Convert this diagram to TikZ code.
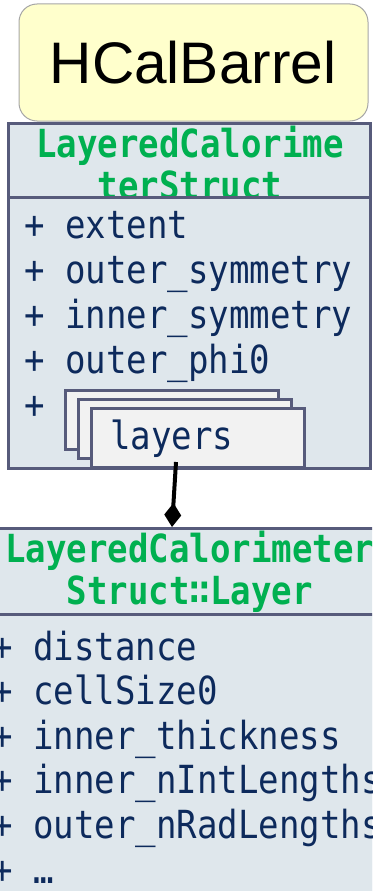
\documentclass[tikz,border=0pt]{standalone}
\usepackage{fontspec}
\setmainfont{Liberation Sans}
\newfontfamily\umlfont[FakeStretch=0.88]{DejaVu Sans Mono}
\usetikzlibrary{positioning, arrows.meta}
\definecolor{slate}{HTML}{575B7B}
\definecolor{boxfill}{HTML}{DFE7EC}
\definecolor{hdrgreen}{HTML}{00B050}
\definecolor{navy}{HTML}{0D2A5C}
\definecolor{notefill}{HTML}{FFFFCC}
\definecolor{stackfill}{HTML}{F2F2F2}

\begin{document}
\begin{tikzpicture}[x=1pt, y=-1pt,
  member/.style={anchor=base west, text=navy, inner sep=0pt,
    font=\umlfont\fontsize{38.7}{40}\selectfont},
  header/.style={anchor=base, text=hdrgreen, inner sep=0pt,
    font=\umlfont\bfseries\fontsize{38.7}{40}\selectfont},
  classbox/.style={draw=slate, fill=boxfill, line width=3pt},
  stackbox/.style={draw=slate, fill=stackfill, line width=3pt,
    minimum width=213pt, minimum height=59pt, inner sep=0pt}]
\useasboundingbox (0,0) rectangle (372,891);
\clip (0,0) rectangle (372,891);

% Titel
\draw[rounded corners=18pt, fill=notefill, draw=gray!70, line width=1pt] (19,4) rectangle (368,121);
\node (title) at (193,63) {\fontsize{58.6}{60}\selectfont HCalBarrel};

% LayeredCalorimeterStruct
\draw[classbox] (8,123) rectangle (370,468);
\node[header] (uhead1) at (190,157) {LayeredCalorime};
\node[header] (uhead2) at (190,199) {terStruct};
\draw[classbox] (8,197) rectangle (370,468);
\foreach \name [count=\i] in {extent, outer\_symmetry, inner\_symmetry, outer\_phi0}
  \node[member] (um\i) at (24,{238+45*(\i-1)}) {+ \name};
\node[member] (um5) at (24,418) {+};

% layers (Stapel)
\node[stackbox] (lay1) at (171.5,420) {};
\node[stackbox] (lay2) at (184.5,429) {};
\node[stackbox] (lay3) at (197.5,437.5) {};
\node[member] (laytxt) at (110,449) {layers};

% LayeredCalorimeterStruct::Layer
\node[classbox, anchor=north, minimum width=420pt, minimum height=380pt] (lstruct) at (190,527) {};
\node[header] (lhead1) at (190,562) {LayeredCalorimeter};
\node[header] (lhead2) at (190,604) {Struct∷Layer};
\draw[classbox] (-20,614) rectangle (400,900);
\foreach \name [count=\i] in {distance, cellSize0, inner\_thickness, inner\_nIntLengths, outer\_nRadLengths, …}
  \node[member] (lm\i) at (-8,{660+44.6*(\i-1)}) {+ \name};

% Verbindung
\coordinate (lstart) at (176,462);
\draw[line width=4pt, -{Diamond[length=24pt, width=17pt]}] (lstart) -- ([xshift=-18pt]lstruct.north);
\end{tikzpicture}
\end{document}
